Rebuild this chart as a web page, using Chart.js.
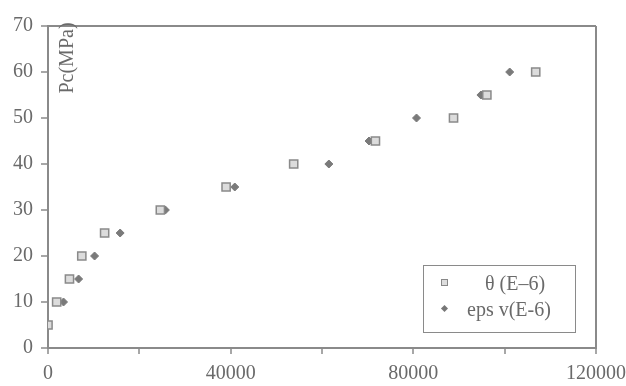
<!DOCTYPE html>
<html>
<head>
<meta charset="utf-8">
<script src="https://cdn.jsdelivr.net/npm/chart.js@4/dist/chart.umd.min.js"></script>
<style>
  html, body { margin: 0; padding: 0; background: #fff; }
  #wrap { position: relative; width: 626px; height: 386px; }
  canvas { position: absolute; left: 0; top: 0; }
  .txt { position: absolute; font-family: "Liberation Serif", serif; font-size: 20px; color: #6a6a6a; white-space: nowrap; }
  #ytitle { left: 26px; top: 46px; width: 80px; height: 24px; line-height: 24px; text-align: center; transform: rotate(-90deg); }
  #legend { position: absolute; left: 423px; top: 265px; width: 151px; height: 66px; border: 1.5px solid #8a8a8a; }
  .sq { position: absolute; width: 5px; height: 5px; border: 1px solid #888; background: #ddd; }
  .dm { position: absolute; width: 5px; height: 5px; background: #777; transform: rotate(45deg); }
</style>
</head>
<body>
<div id="wrap">
  <canvas id="c" width="626" height="386"></canvas>
  <div class="txt" id="ytitle">Pc(MPa)</div>
  <div id="legend"></div>
  <div class="sq" style="left:441px;top:279px;"></div>
  <div class="dm" style="left:442px;top:306px;"></div>
  <div class="txt" style="left:485px;top:271px;line-height:24px;">θ (E–6)</div>
  <div class="txt" style="left:467px;top:297px;line-height:24px;">eps v(E-6)</div>
</div>
<script>
const pressure = [5, 10, 15, 20, 25, 30, 35, 40, 45, 50, 55, 60];
const theta    = [0, 1900, 4700, 7400, 12400, 24600, 39000, 53800, 71700, 88800, 96100, 106800];
const epsV     = [0, 3400, 6700, 10200, 15800, 25700, 40900, 61500, 70300, 80700, 94800, 101100];
const xTickLabels = [0, 40000, 80000, 120000];
const yTickLabels = [0, 10, 20, 30, 40, 50, 60, 70];

const pts = (xs, ys) => xs.map((x, i) => ({ x: x, y: ys[i] }));
const AX = '#8a8a8a';
const TXT = '#6a6a6a';
const font = { family: 'Liberation Serif', size: 20 };

new Chart(document.getElementById('c'), {
  type: 'scatter',
  data: {
    datasets: [
      { label: 'θ (E–6)', data: pts(theta, pressure), pointStyle: 'rect', pointRadius: 5.8,
        borderColor: '#8a8a8a', backgroundColor: '#dcdcdc', borderWidth: 1.5 },
      { label: 'eps v(E-6)', data: pts(epsV, pressure), pointStyle: 'rectRot', pointRadius: 4,
        borderColor: '#7a7a7a', backgroundColor: '#7a7a7a', borderWidth: 1 }
    ]
  },
  options: {
    responsive: false,
    animation: false,
    events: [],
    layout: { padding: { top: 26, right: 0, left: 0, bottom: 0 } },
    plugins: { legend: { display: false }, tooltip: { enabled: false } },
    scales: {
      x: {
        type: 'linear', min: 0, max: 120000,
        afterFit: s => { s.height = 38; s.paddingRight = 30; s.paddingLeft = 0; },
        ticks: {
          stepSize: 20000, font: font, color: TXT, padding: 8, maxRotation: 0,
          callback: v => xTickLabels.includes(v) ? String(v) : ''
        },
        grid: {
          color: c => (c.tick && c.tick.value === 120000) ? AX : 'rgba(0,0,0,0)',
          lineWidth: 2, tickColor: AX, tickLength: 6, tickWidth: 1.5
        },
        border: { color: AX, width: 2 }
      },
      y: {
        type: 'linear', min: 0, max: 70,
        afterFit: s => { s.width = 48; },
        ticks: {
          stepSize: 5, font: font, color: TXT, padding: 8,
          callback: v => yTickLabels.includes(v) ? String(v) : ''
        },
        grid: {
          color: c => (c.tick && c.tick.value === 70) ? AX : 'rgba(0,0,0,0)',
          lineWidth: 2, tickColor: AX, tickLength: 7, tickWidth: 1.5
        },
        border: { color: AX, width: 2 }
      }
    }
  }
});
</script>
</body>
</html>
